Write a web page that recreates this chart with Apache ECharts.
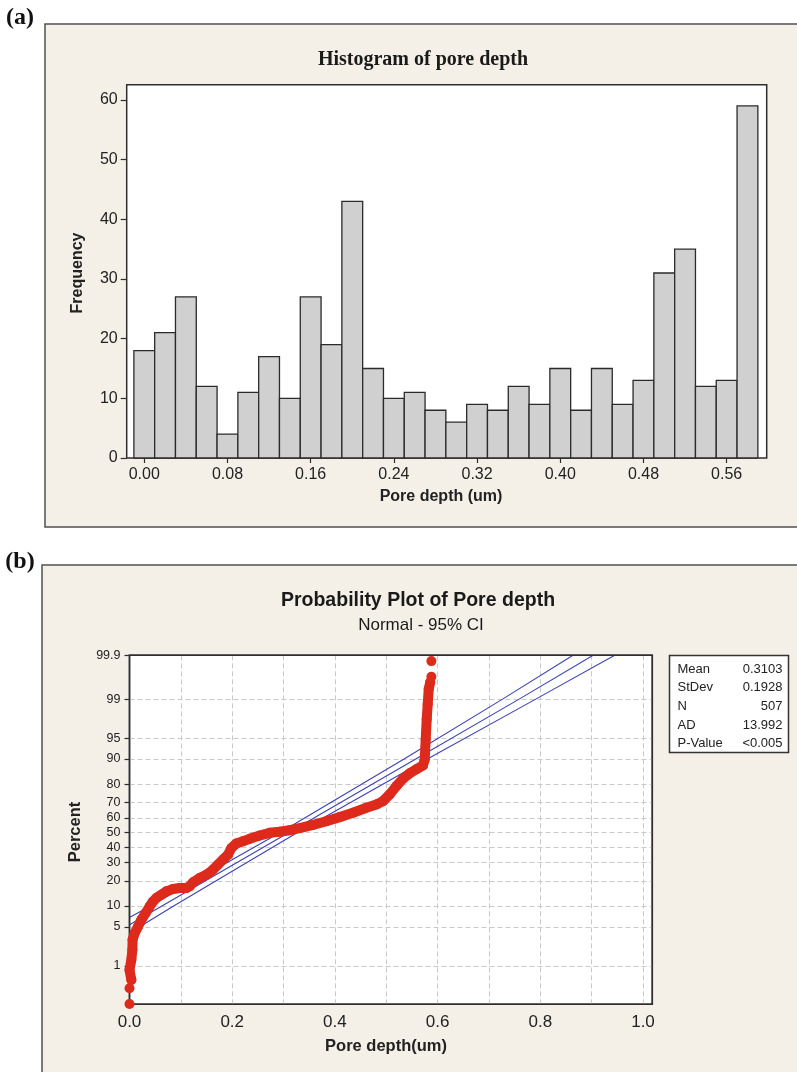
<!DOCTYPE html>
<html>
<head>
<meta charset="utf-8">
<script src="https://cdn.jsdelivr.net/npm/echarts@6/dist/echarts.min.js"></script>
<style>
html,body{margin:0;padding:0;background:#fff;}
#c{width:797px;height:1072px;}
</style>
</head>
<body>
<div id="c"></div>
<script>
// ---------- Data: histogram (a) ----------
const binCenters = [0.00,0.02,0.04,0.06,0.08,0.10,0.12,0.14,0.16,0.18,0.20,0.22,0.24,0.26,0.28,0.30,0.32,0.34,0.36,0.38,0.40,0.42,0.44,0.46,0.48,0.50,0.52,0.54,0.56,0.58];
const frequency  = [18,21,27,12,4,11,17,10,27,19,43,15,10,11,8,6,9,8,12,9,15,8,15,9,13,31,35,12,13,59];
const binWidth = 0.02;
const histXTicks = [0.00,0.08,0.16,0.24,0.32,0.40,0.48,0.56];
const histYTicks = [0,10,20,30,40,50,60];

// ---------- Data: probability plot (b) ----------
const probX   = [0.000,0.000,0.0036,0.000,0.0036,0.0056,0.0060,0.0101,0.0166,0.0231,0.0315,0.0393,0.0458,0.0523,0.0621,0.0718,0.0848,0.0978,0.1108,0.1172,0.1237,0.1367,0.1497,0.1627,0.1724,0.1821,0.1919,0.1984,0.2081,0.2211,0.2341,0.2536,0.2731,0.2925,0.3120,0.3315,0.3574,0.3834,0.4093,0.4353,0.4613,0.4808,0.4937,0.5067,0.5197,0.5327,0.5457,0.5587,0.5716,0.5749,0.5768,0.5788,0.5807,0.5827,0.5856,0.5879,0.5879];
const probPct = [0.14,0.33,0.51,0.83,1.32,2.04,3.07,3.97,5.07,6.41,8.02,9.89,11.49,12.67,13.92,15.25,16.23,16.68,16.68,17.41,19.24,21.42,23.14,25.88,28.8,31.85,35.0,39.4,42.4,43.96,45.6,47.9,49.8,50.5,51.6,53.0,55.3,57.8,60.6,63.5,66.7,68.8,70.8,74.7,79.1,82.6,84.9,86.5,87.9,89.9,94.8,97.6,98.74,99.38,99.56,99.67,99.86];

const ciUpperX   = [0, 0.0405, 0.2935, 0.5347, 0.7265, 0.8637];
const ciUpperPct = [6.9, 10, 50, 90, 99, 99.9];
const ciFitX     = [0, 0.0632, 0.3103, 0.5574, 0.7588, 0.9030];
const ciFitPct   = [5.4, 10, 50, 90, 99, 99.9];
const ciLowerX   = [0, 0.0859, 0.3271, 0.5801, 0.7911, 0.9449];
const ciLowerPct = [4.0, 10, 50, 90, 99, 99.9];

const pctTicks = [1,5,10,20,30,40,50,60,70,80,90,95,99,99.9];
const probXTicks = [0.0,0.2,0.4,0.6,0.8,1.0];

const statLabels = ['Mean','StDev','N','AD','P-Value'];
const statValues = ['0.3103','0.1928','507','13.992','<0.005'];

// inverse normal CDF (normal probability axis transform)
function probit(p){
  const a=[-3.969683028665376e+01,2.209460984245205e+02,-2.759285104469687e+02,1.383577518672690e+02,-3.066479806614716e+01,2.506628277459239e+00];
  const b=[-5.447609879822406e+01,1.615858368580409e+02,-1.556989798598866e+02,6.680131188771972e+01,-1.328068155288572e+01];
  const c=[-7.784894002430293e-03,-3.223964580411365e-01,-2.400758277161838e+00,-2.549732539343734e+00,4.374664141464968e+00,2.938163982698783e+00];
  const d=[7.784695709041462e-03,3.224671290700398e-01,2.445134137142996e+00,3.754408661907416e+00];
  const pl=0.02425, ph=1-pl; let q,r;
  if(p<pl){q=Math.sqrt(-2*Math.log(p));return (((((c[0]*q+c[1])*q+c[2])*q+c[3])*q+c[4])*q+c[5])/((((d[0]*q+d[1])*q+d[2])*q+d[3])*q+1);}
  if(p<=ph){q=p-0.5;r=q*q;return (((((a[0]*r+a[1])*r+a[2])*r+a[3])*r+a[4])*r+a[5])*q/(((((b[0]*r+b[1])*r+b[2])*r+b[3])*r+b[4])*r+1);}
  q=Math.sqrt(-2*Math.log(1-p));return -(((((c[0]*q+c[1])*q+c[2])*q+c[3])*q+c[4])*q+c[5])/((((d[0]*q+d[1])*q+d[2])*q+d[3])*q+1);
}
const toZ = (xs, ps) => xs.map((x,i)=>[x, probit(ps[i]/100)]);
const pctZ = pctTicks.map(p=>probit(p/100));
const zTop = probit(0.999);

const SANS = 'Liberation Sans, Arial, Helvetica, sans-serif';
const SERIF = 'Liberation Serif, Times New Roman, serif';
const RED = '#de2a1c';
const BLUE = '#3c42b4';
const PANEL = '#f4f0e8';

const G1 = {left:126.7, top:84.7, width:640, height:373.3};
const G2 = {left:129.5, top:655.3, width:522.8, height:349};

const chart = echarts.init(document.getElementById('c'), null, {renderer:'canvas'});

const histData = binCenters.map((c,i)=>[c, frequency[i]]);
const probData = toZ(probX, probPct);

const option = {
  animation:false,
  backgroundColor:'#ffffff',
  grid:[
    Object.assign({show:true, backgroundColor:'#fff', borderColor:'#2e2e2e', borderWidth:1.5}, G1),
    Object.assign({show:true, backgroundColor:'#fff', borderColor:'#2e2e2e', borderWidth:1.5}, G2)
  ],
  xAxis:[
    {type:'value', gridIndex:0, min:-0.0169, max:0.5985,
     axisLine:{show:false, onZero:false}, splitLine:{show:false},
     axisTick:{show:true, inside:false, length:5, customValues:histXTicks, lineStyle:{color:'#2e2e2e', width:1.2}},
     axisLabel:{customValues:histXTicks, margin:9, fontFamily:SANS, fontSize:16, color:'#222', formatter:v=>v.toFixed(2)}},
    {type:'value', gridIndex:1, min:0, max:1.0181, interval:0.1,
     axisLine:{show:false, onZero:false},
     axisTick:{show:false},
     splitLine:{show:true, lineStyle:{color:'#c9c9c9', width:1, type:[5,3]}},
     axisLabel:{customValues:probXTicks, margin:10, fontFamily:SANS, fontSize:17, color:'#222', formatter:v=>v.toFixed(1)}}
  ],
  yAxis:[
    {type:'value', gridIndex:0, min:0, max:62.56,
     axisLine:{show:false, onZero:false}, splitLine:{show:false},
     axisTick:{show:true, inside:false, length:6, customValues:histYTicks, lineStyle:{color:'#2e2e2e', width:1.2}},
     axisLabel:{customValues:histYTicks, margin:9, fontFamily:SANS, fontSize:16, color:'#222'}},
    {type:'value', gridIndex:1, min:-2.995, max:zTop + 1e-6,
     axisLine:{show:false, onZero:false},
     axisTick:{show:true, inside:false, length:5, customValues:pctZ, lineStyle:{color:'#2e2e2e', width:1.2}},
     splitLine:{show:true, lineStyle:{color:'#c9c9c9', width:1, type:[5,3]}},
     axisLabel:{customValues:pctZ, margin:9, fontFamily:SANS, fontSize:12.5, color:'#222',
       formatter:v=>{let best=pctTicks[0],bd=1e9;pctTicks.forEach((p,i)=>{const d=Math.abs(pctZ[i]-v);if(d<bd){bd=d;best=p;}});return String(best);}}}
  ],
  series:[
    {type:'custom', xAxisIndex:0, yAxisIndex:0, data:histData, encode:{x:0,y:1},
     renderItem:(params, api)=>{
       const x=api.value(0), y=api.value(1);
       const p0=api.coord([x-binWidth/2, y]);
       const p1=api.coord([x+binWidth/2, 0]);
       return {type:'rect', shape:{x:p0[0], y:p0[1], width:p1[0]-p0[0], height:p1[1]-p0[1]},
               style:{fill:'#d0d0d0', stroke:'#2b2b2b', lineWidth:1.3}};
     }},
    {type:'line', xAxisIndex:1, yAxisIndex:1, data:toZ(ciUpperX, ciUpperPct), symbol:'none', lineStyle:{color:BLUE, width:1.1}, z:3},
    {type:'line', xAxisIndex:1, yAxisIndex:1, data:toZ(ciFitX, ciFitPct), symbol:'none', lineStyle:{color:BLUE, width:1.1}, z:3},
    {type:'line', xAxisIndex:1, yAxisIndex:1, data:toZ(ciLowerX, ciLowerPct), symbol:'none', lineStyle:{color:BLUE, width:1.1}, z:3},
    {type:'line', xAxisIndex:1, yAxisIndex:1, data:probData.slice(2, probData.length-2), symbol:'none', clip:false,
     lineStyle:{color:RED, width:10, cap:'round', join:'round'}, z:6},
    {type:'scatter', xAxisIndex:1, yAxisIndex:1, data:probData, symbol:'circle', symbolSize:10, clip:false,
     itemStyle:{color:RED, opacity:1}, z:7}
  ],
  graphic:{elements:[
    {type:'rect', z:-10, silent:true, shape:{x:45, y:24, width:780, height:503}, style:{fill:PANEL, stroke:'#505050', lineWidth:1.5}},
    {type:'rect', z:-10, silent:true, shape:{x:42, y:565, width:790, height:540}, style:{fill:PANEL, stroke:'#505050', lineWidth:1.5}},
    {type:'rect', z:4, silent:true, shape:{x:G2.left, y:G2.top, width:G2.width, height:G2.height}, style:{fill:'none', stroke:'#2e2e2e', lineWidth:1.5}},
    {type:'text', z:50, style:{x:20, y:18, text:'(a)', font:'bold 24px '+SERIF, fill:'#111', textAlign:'center', textVerticalAlign:'middle'}},
    {type:'text', z:50, style:{x:20, y:562, text:'(b)', font:'bold 24px '+SERIF, fill:'#111', textAlign:'center', textVerticalAlign:'middle'}},
    {type:'text', z:50, style:{x:423, y:60, text:'Histogram of pore depth', font:'bold 20px '+SERIF, fill:'#1a1a1a', textAlign:'center', textVerticalAlign:'middle'}},
    {type:'text', z:50, x:78, y:273, rotation:Math.PI/2, style:{x:0, y:0, text:'Frequency', font:'bold 16px '+SANS, fill:'#222', textAlign:'center', textVerticalAlign:'middle'}},
    {type:'text', z:50, style:{x:441, y:497, text:'Pore depth (um)', font:'bold 16px '+SANS, fill:'#222', textAlign:'center', textVerticalAlign:'middle'}},
    {type:'text', z:50, style:{x:418, y:601, text:'Probability Plot of Pore depth', font:'bold 19.5px '+SANS, fill:'#1a1a1a', textAlign:'center', textVerticalAlign:'middle'}},
    {type:'text', z:50, style:{x:421, y:625, text:'Normal - 95% CI', font:'17px '+SANS, fill:'#1a1a1a', textAlign:'center', textVerticalAlign:'middle'}},
    {type:'text', z:50, x:75, y:832, rotation:Math.PI/2, style:{x:0, y:0, text:'Percent', font:'bold 16.5px '+SANS, fill:'#222', textAlign:'center', textVerticalAlign:'middle'}},
    {type:'text', z:50, style:{x:386, y:1046, text:'Pore depth(um)', font:'bold 16.5px '+SANS, fill:'#222', textAlign:'center', textVerticalAlign:'middle'}},
    {type:'rect', z:50, shape:{x:669.5, y:655.5, width:119, height:97}, style:{fill:'#fff', stroke:'#333', lineWidth:1.5}}
  ].concat(statLabels.map((t,i)=>({type:'text', z:60, style:{x:677.5, y:669+i*18.7, text:t, font:'13px '+SANS, fill:'#222', textAlign:'left', textVerticalAlign:'middle'}})))
   .concat(statValues.map((t,i)=>({type:'text', z:60, style:{x:782.5, y:669+i*18.7, text:t, font:'13px '+SANS, fill:'#222', textAlign:'right', textVerticalAlign:'middle'}})))
  }
};
chart.setOption(option);
</script>
</body>
</html>
